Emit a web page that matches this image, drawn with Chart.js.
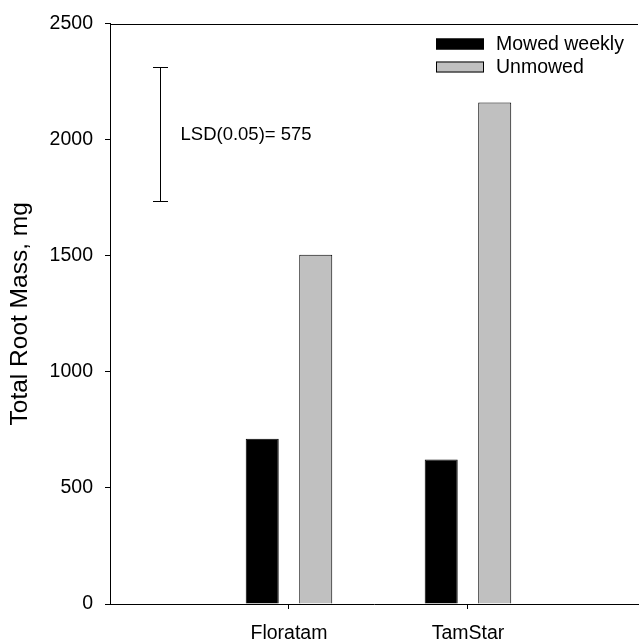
<!DOCTYPE html>
<html>
<head>
<meta charset="utf-8">
<title>Total Root Mass</title>
<script src="https://cdn.jsdelivr.net/npm/chart.js@4.4.1/dist/chart.umd.min.js"></script>
<style>
  html, body { margin: 0; padding: 0; background: #fff; }
  #wrap { width: 639px; height: 643px; }
</style>
</head>
<body>
<div id="wrap"><canvas id="c" width="639" height="643"></canvas></div>
<script>
// Cultivars and their total root mass (mg) under two mowing regimes
const categories = ['Floratam', 'TamStar'];
const seriesNames = ['Mowed weekly', 'Unmowed'];
const mowedWeekly = [712, 622];
const unmowed = [1505, 2161];
const yTickValues = [0, 500, 1000, 1500, 2000, 2500];
const xTickValues = [1, 2];

// Least significant difference bar (drawn centred on lsdCenter)
const lsdLabel = 'LSD(0.05)= 575';
const lsdValue = 575;
const lsdCenter = 2025;
const lsdX = 0.28;

const FONT = '"Liberation Sans", Arial, Helvetica, sans-serif';
Chart.defaults.font.family = FONT;
Chart.defaults.font.size = 19.5;
Chart.defaults.color = '#000';

const toPoints = arr => arr.map((v, i) => ({ x: xTickValues[i], y: v }));

// Draws the top frame line, the LSD whisker and the legend box
const extras = {
  id: 'extras',
  afterDatasetsDraw(chart) {
    const { ctx, chartArea, scales } = chart;
    const xs = scales.x, ys = scales.y;
    ctx.save();
    ctx.strokeStyle = '#000';
    ctx.lineWidth = 1;

    // top frame line
    const ty = Math.round(chartArea.top) + 0.5;
    ctx.beginPath();
    ctx.moveTo(chartArea.left, ty);
    ctx.lineTo(chartArea.right, ty);
    ctx.stroke();

    // LSD whisker
    const px = Math.round(xs.getPixelForValue(lsdX)) + 0.5;
    const yTop = Math.round(ys.getPixelForValue(lsdCenter + lsdValue / 2)) + 0.5;
    const yBot = Math.round(ys.getPixelForValue(lsdCenter - lsdValue / 2)) + 0.5;
    const cap = 7.5;
    ctx.beginPath();
    ctx.moveTo(px, yTop); ctx.lineTo(px, yBot);
    ctx.moveTo(px - cap, yTop); ctx.lineTo(px + cap, yTop);
    ctx.moveTo(px - cap, yBot); ctx.lineTo(px + cap, yBot);
    ctx.stroke();

    ctx.fillStyle = '#000';
    ctx.font = '18.5px ' + FONT;
    ctx.textAlign = 'left';
    ctx.textBaseline = 'middle';
    ctx.fillText(lsdLabel, px + 20, ys.getPixelForValue(lsdCenter) + 1);

    // legend
    const lx = chartArea.right - 202;
    const boxW = 48, boxH = 11;
    const rows = [chart.data.datasets[0], chart.data.datasets[1]];
    const rowY = [38.5, 61.5];
    ctx.font = '19.5px ' + FONT;
    rows.forEach((ds, i) => {
      const by = rowY[i];
      ctx.fillStyle = ds.backgroundColor;
      ctx.fillRect(lx, by, boxW, boxH);
      ctx.strokeStyle = '#000';
      ctx.strokeRect(lx + 0.5, by + 0.5, boxW - 1, boxH - 1);
      ctx.fillStyle = '#000';
      ctx.fillText(ds.label, lx + 60, by + boxH / 2 + 1);
    });
    ctx.restore();
  }
};

new Chart(document.getElementById('c'), {
  type: 'bar',
  data: {
    datasets: [
      {
        label: seriesNames[0],
        data: toPoints(mowedWeekly),
        backgroundColor: '#000000',
        borderColor: '#000000',
        borderWidth: 1
      },
      {
        label: seriesNames[1],
        data: toPoints(unmowed),
        backgroundColor: '#c0c0c0',
        borderColor: '#000000',
        borderWidth: 1
      }
    ]
  },
  options: {
    responsive: false,
    animation: false,
    categoryPercentage: 0.598,
    barPercentage: 0.617,
    layout: { padding: { top: 18, right: 1, left: 0, bottom: 0 } },
    plugins: {
      legend: { display: false },
      tooltip: { enabled: false }
    },
    scales: {
      x: {
        type: 'linear',
        min: 0,
        max: 2.95,
        offset: false,
        afterBuildTicks(scale) {
          scale.ticks = xTickValues.map(v => ({ value: v }));
        },
        afterFit(scale) { scale.height = 39; },
        ticks: {
          autoSkip: false,
          maxRotation: 0,
          padding: 13,
          callback: v => categories[xTickValues.indexOf(v)] ?? ''
        },
        grid: {
          offset: false,
          drawOnChartArea: false,
          drawTicks: true,
          tickLength: 5,
          color: '#000'
        },
        border: { display: true, color: '#000', width: 1 }
      },
      y: {
        min: 0,
        max: 2500,
        afterBuildTicks(scale) {
          scale.ticks = yTickValues.map(v => ({ value: v }));
        },
        afterFit(scale) { scale.width = 110; },
        ticks: { padding: 12, callback: v => String(v) },
        title: {
          display: true,
          text: 'Total Root Mass, mg',
          font: { size: 24.5 },
          padding: { top: 6, bottom: 0 }
        },
        grid: {
          drawOnChartArea: false,
          drawTicks: true,
          tickLength: 5,
          color: '#000'
        },
        border: { display: true, color: '#000', width: 1 }
      }
    }
  },
  plugins: [extras]
});
</script>
</body>
</html>
